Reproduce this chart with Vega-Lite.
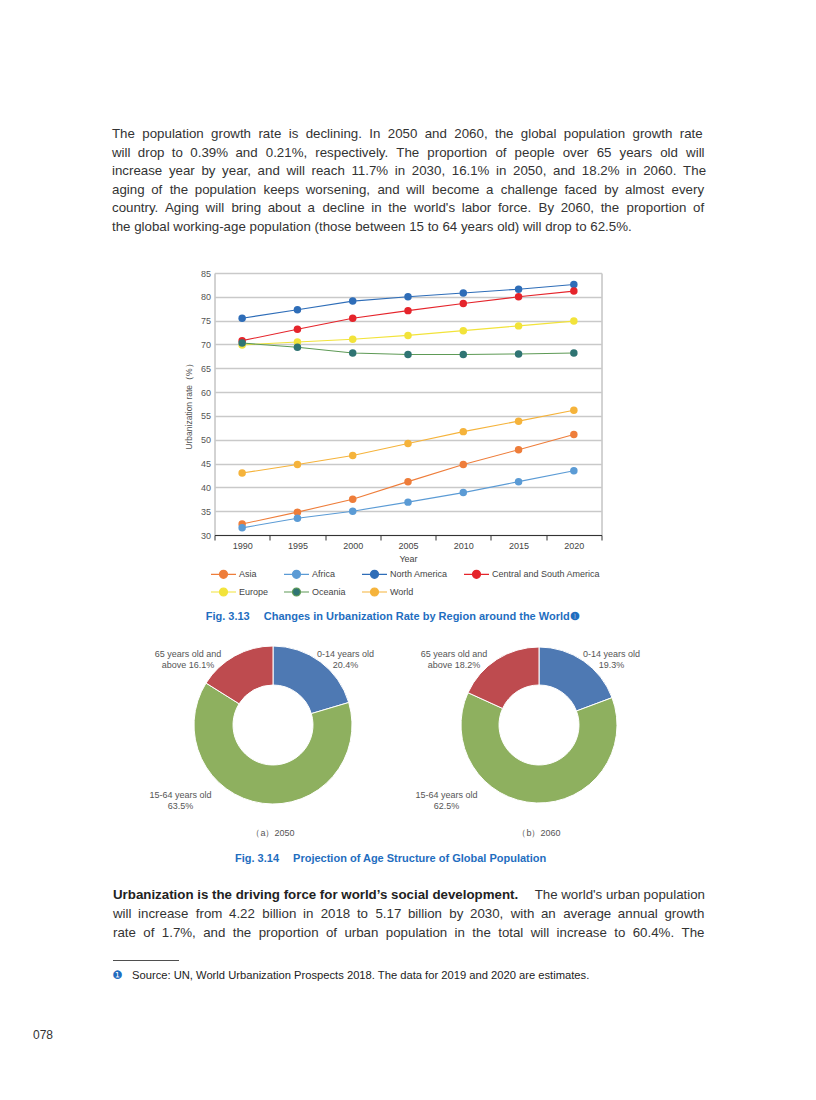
{
  "$schema": "https://vega.github.io/schema/vega-lite/v6.json",
  "background": "#ffffff",
  "padding": 0,
  "bounds": "flush",
  "center": true,
  "spacing": 0,
  "resolve": {"scale": {"color": "independent", "fill": "independent"}},
  "config": {
    "font": "Liberation Sans",
    "view": {"stroke": null},
    "axis": {"labelFont": "Liberation Sans", "titleFont": "Liberation Sans"},
    "legend": {"labelFont": "Liberation Sans"},
    "title": {"font": "Liberation Sans"}
  },
  "vconcat": [
    {
      "width": 592,
      "height": 273,
      "data": {"values": [
        {"line": 1, "text": "The\u2007population\u2007growth\u2007rate\u2007is\u2007declining.\u2007In\u20072050\u2007and\u20072060,\u2007the\u2007global\u2007population\u2007growth\u2007rate"},
        {"line": 2, "text": "will\u2007drop\u2007to\u20070.39%\u2007and \u20040.21%, \u2004respectively. \u2004The \u2004proportion \u2004of \u2004people \u2004over \u200465 \u2004years \u2004old \u2004will"},
        {"line": 3, "text": "increase\u2002year\u2002by\u2002year,\u2002and\u2002will\u2002reach\u200211.7%\u2002in\u20022030,\u200216.1%\u2002in\u20022050,\u2002and\u200218.2%\u2002in\u20022060.\u2002The"},
        {"line": 4, "text": "aging\u2002of\u2007the\u2002population\u2007keeps\u2002worsening,\u2007and\u2002will\u2007become\u2002a\u2007challenge\u2002faced\u2007by\u2002almost\u2007every"},
        {"line": 5, "text": "country.\u2002Aging\u2002will\u2007bring\u2002about\u2002a\u2007decline\u2002in\u2002the\u2007world's\u2002labor\u2002force.\u2007By\u20022060,\u2002the\u2007proportion\u2002of"},
        {"line": 6, "text": "the global working-age population (those between 15 to 64 years old) will drop to 62.5%."}
      ]},
      "mark": {"type": "text", "align": "left", "baseline": "middle", "fontSize": 13.3, "color": "#333333"},
      "encoding": {
        "x": {"value": 0},
        "y": {"field": "line", "type": "ordinal", "scale": {"type": "point", "range": [134, 227], "padding": 0}, "axis": null},
        "text": {"field": "text", "type": "nominal"}
      }
    },
    {
      "width": 387,
      "height": 262,
      "view": {"stroke": "#a6a6a6", "strokeWidth": 1},
      "data": {"values": [
        {"year": 1990, "region": "Asia", "rate": 32.3},
        {"year": 1995, "region": "Asia", "rate": 34.8},
        {"year": 2000, "region": "Asia", "rate": 37.5},
        {"year": 2005, "region": "Asia", "rate": 41.2},
        {"year": 2010, "region": "Asia", "rate": 44.8},
        {"year": 2015, "region": "Asia", "rate": 47.9},
        {"year": 2020, "region": "Asia", "rate": 51.1},
        {"year": 1990, "region": "Africa", "rate": 31.5},
        {"year": 1995, "region": "Africa", "rate": 33.5},
        {"year": 2000, "region": "Africa", "rate": 35.0},
        {"year": 2005, "region": "Africa", "rate": 36.9},
        {"year": 2010, "region": "Africa", "rate": 38.9},
        {"year": 2015, "region": "Africa", "rate": 41.2},
        {"year": 2020, "region": "Africa", "rate": 43.5},
        {"year": 1990, "region": "North America", "rate": 75.5},
        {"year": 1995, "region": "North America", "rate": 77.3},
        {"year": 2000, "region": "North America", "rate": 79.1},
        {"year": 2005, "region": "North America", "rate": 80.0},
        {"year": 2010, "region": "North America", "rate": 80.8},
        {"year": 2015, "region": "North America", "rate": 81.6},
        {"year": 2020, "region": "North America", "rate": 82.6},
        {"year": 1990, "region": "Central and South America", "rate": 70.8},
        {"year": 1995, "region": "Central and South America", "rate": 73.2},
        {"year": 2000, "region": "Central and South America", "rate": 75.5},
        {"year": 2005, "region": "Central and South America", "rate": 77.1},
        {"year": 2010, "region": "Central and South America", "rate": 78.6},
        {"year": 2015, "region": "Central and South America", "rate": 80.0},
        {"year": 2020, "region": "Central and South America", "rate": 81.2},
        {"year": 1990, "region": "Europe", "rate": 69.9},
        {"year": 1995, "region": "Europe", "rate": 70.5},
        {"year": 2000, "region": "Europe", "rate": 71.1},
        {"year": 2005, "region": "Europe", "rate": 71.9},
        {"year": 2010, "region": "Europe", "rate": 72.9},
        {"year": 2015, "region": "Europe", "rate": 73.9},
        {"year": 2020, "region": "Europe", "rate": 74.9},
        {"year": 1990, "region": "Oceania", "rate": 70.3},
        {"year": 1995, "region": "Oceania", "rate": 69.4},
        {"year": 2000, "region": "Oceania", "rate": 68.2},
        {"year": 2005, "region": "Oceania", "rate": 67.9},
        {"year": 2010, "region": "Oceania", "rate": 67.9},
        {"year": 2015, "region": "Oceania", "rate": 68.0},
        {"year": 2020, "region": "Oceania", "rate": 68.2},
        {"year": 1990, "region": "World", "rate": 43.0},
        {"year": 1995, "region": "World", "rate": 44.8},
        {"year": 2000, "region": "World", "rate": 46.7},
        {"year": 2005, "region": "World", "rate": 49.2},
        {"year": 2010, "region": "World", "rate": 51.7},
        {"year": 2015, "region": "World", "rate": 53.9},
        {"year": 2020, "region": "World", "rate": 56.2}
      ]},
      "encoding": {
        "x": {
          "field": "year", "type": "ordinal", "bandPosition": 0.5,
          "scale": {"type": "band", "paddingInner": 0, "paddingOuter": 0},
          "axis": {"title": "Year", "labelAngle": 0, "tickBand": "extent", "domainColor": "#333333", "tickColor": "#333333", "tickSize": 5, "labelFontSize": 9, "labelColor": "#444444", "labelPadding": 1, "titleFontSize": 9, "titleFontWeight": "normal", "titleColor": "#444444", "titlePadding": 4, "grid": false}
        },
        "y": {
          "field": "rate", "type": "quantitative",
          "scale": {"domain": [30, 85], "nice": false, "zero": false},
          "axis": {"title": "Urbanization rate（%）", "values": [30, 35, 40, 45, 50, 55, 60, 65, 70, 75, 80, 85], "grid": true, "gridColor": "#c9c9c9", "gridWidth": 1.4, "domain": false, "ticks": false, "labelFontSize": 9, "labelColor": "#555555", "labelPadding": 4, "titleFontSize": 8.5, "titleFontWeight": "normal", "titleColor": "#555555", "titlePadding": 7}
        }
      },
      "layer": [
        {
          "mark": {"type": "line", "strokeWidth": 1.1},
          "encoding": {
            "color": {
              "field": "region", "type": "nominal",
              "scale": {"domain": ["Asia", "Africa", "North America", "Central and South America", "Europe", "Oceania", "World"], "range": ["#EE7D3A", "#5B9BD5", "#2E6DB8", "#E5242B", "#F2E33A", "#5E9A56", "#F5B33B"]},
              "legend": {
                "orient": "none", "legendX": 3, "legendY": 295, "direction": "horizontal", "columns": 4,
                "title": null, "padding": 0,
                "symbolType": "M-2.5,0H-0.8M0.8,0H2.5M-0.8,0A0.8,0.8,0,1,1,0.8,0A0.8,0.8,0,1,1,-0.8,0",
                "symbolSize": 100, "symbolStrokeWidth": 1.2,
                "labelFontSize": 9, "labelColor": "#444444", "labelOffset": 9.5,
                "columnPadding": 13, "rowPadding": 4,
                "encode": {"symbols": {"update": {"fill": {"scale": "fill", "field": "value"}, "stroke": {"scale": "color", "field": "value"}}}}
              }
            }
          }
        },
        {
          "mark": {"type": "circle", "size": 56, "opacity": 1},
          "encoding": {
            "fill": {
              "field": "region", "type": "nominal",
              "scale": {"domain": ["Asia", "Africa", "North America", "Central and South America", "Europe", "Oceania", "World"], "range": ["#EE7D3A", "#5B9BD5", "#2E6DB8", "#E5242B", "#F2E33A", "#2F7473", "#F5B33B"]},
              "legend": null
            }
          }
        }
      ]
    },
    {
      "width": 816,
      "height": 109.5,
      "data": {"values": [{"caption": "Fig. 3.13\u2003 Changes in Urbanization Rate by Region around the World❶"}]},
      "mark": {"type": "text", "align": "left", "baseline": "middle", "fontSize": 11, "fontWeight": "bold", "color": "#1F6EBF"},
      "encoding": {"x": {"value": 205.7}, "y": {"value": 82}, "text": {"field": "caption", "type": "nominal"}}
    },
    {
      "width": 426,
      "height": 160,
      "data": {"values": [
        {"year": "2050", "group": "0-14 years old", "share": 20.4, "label": "0-14 years old\n20.4%", "rank": 1},
        {"year": "2050", "group": "15-64 years old", "share": 63.5, "label": "15-64 years old\n63.5%", "rank": 2},
        {"year": "2050", "group": "65 years old and above", "share": 16.1, "label": "65 years old and\nabove 16.1%", "rank": 3},
        {"year": "2060", "group": "0-14 years old", "share": 19.3, "label": "0-14 years old\n19.3%", "rank": 1},
        {"year": "2060", "group": "15-64 years old", "share": 62.5, "label": "15-64 years old\n62.5%", "rank": 2},
        {"year": "2060", "group": "65 years old and above", "share": 18.2, "label": "65 years old and\nabove 18.2%", "rank": 3}
      ]},
      "encoding": {
        "x": {"field": "year", "type": "ordinal", "scale": {"type": "point", "domain": ["2050", "2060"], "range": [78, 344], "padding": 0}, "axis": null}
      },
      "layer": [
        {
          "transform": [{"filter": "datum.year == '2050'"}],
          "mark": {"type": "arc", "outerRadius": 79, "innerRadius": 40, "stroke": "#ffffff", "strokeWidth": 1},
          "encoding": {
            "theta": {"field": "share", "type": "quantitative", "stack": true},
            "order": {"field": "rank", "type": "quantitative"},
            "color": {"field": "group", "type": "nominal", "scale": {"domain": ["0-14 years old", "15-64 years old", "65 years old and above"], "range": ["#4E79B3", "#8EB05F", "#BE4B4F"]}, "legend": null}
          }
        },
        {
          "transform": [{"filter": "datum.year == '2060'"}],
          "mark": {"type": "arc", "outerRadius": 78, "innerRadius": 40, "stroke": "#ffffff", "strokeWidth": 1},
          "encoding": {
            "theta": {"field": "share", "type": "quantitative", "stack": true},
            "order": {"field": "rank", "type": "quantitative"},
            "color": {"field": "group", "type": "nominal", "legend": null}
          }
        },
        {
          "transform": [{"filter": "datum.rank == 1"}],
          "mark": {"type": "text", "lineBreak": "\n", "lineHeight": 11, "fontSize": 9, "color": "#555555", "align": "center", "baseline": "middle", "dx": 72.5},
          "encoding": {"y": {"value": 9}, "text": {"field": "label", "type": "nominal"}}
        },
        {
          "transform": [{"filter": "datum.rank == 3"}],
          "mark": {"type": "text", "lineBreak": "\n", "lineHeight": 11, "fontSize": 9, "color": "#555555", "align": "center", "baseline": "middle", "dx": -85},
          "encoding": {"y": {"value": 9}, "text": {"field": "label", "type": "nominal"}}
        },
        {
          "transform": [{"filter": "datum.rank == 2"}],
          "mark": {"type": "text", "lineBreak": "\n", "lineHeight": 11, "fontSize": 9, "color": "#555555", "align": "center", "baseline": "middle", "dx": -92.5},
          "encoding": {"y": {"value": 150}, "text": {"field": "label", "type": "nominal"}}
        },
        {
          "data": {"values": [{"year": "2050", "caption": "（a）2050"}, {"year": "2060", "caption": "（b）2060"}]},
          "mark": {"type": "text", "fontSize": 9, "color": "#555555", "align": "center", "baseline": "middle"},
          "encoding": {"y": {"value": 187.5}, "text": {"field": "caption", "type": "nominal"}}
        }
      ]
    },
    {
      "width": 816,
      "height": 295.5,
      "data": {"values": [
        {"line": 1, "segment": "lead", "text": "Urbanization is the driving force for world’s social development."},
        {"line": 1, "segment": "tail", "text": "The world's urban population"},
        {"line": 2, "segment": "body", "text": "will\u2002increase\u2007from\u20024.22\u2007billion\u2002in\u20072018\u2002to\u20075.17\u2002billion\u2007by\u20022030,\u2007with\u2002an\u2007average\u2002annual\u2002growth"},
        {"line": 3, "segment": "body", "text": "rate\u2007of\u20071.7%,\u2007and\u2007the\u2007proportion\u2007of\u2007urban\u2007population\u2007in\u2007the\u2007total\u2007will\u2007increase\u2007to\u200760.4%.\u2007The"}
      ]},
      "layer": [
        {
          "transform": [{"filter": "datum.segment == 'lead'"}],
          "mark": {"type": "text", "align": "left", "baseline": "middle", "fontSize": 13.3, "fontWeight": "bold", "color": "#222222"},
          "encoding": {
            "x": {"value": 113},
            "y": {"field": "line", "type": "ordinal", "scale": {"type": "point", "range": [89.5, 127.5], "padding": 0}, "axis": null},
            "text": {"field": "text", "type": "nominal"}
          }
        },
        {
          "transform": [{"filter": "datum.segment == 'body'"}],
          "mark": {"type": "text", "align": "left", "baseline": "middle", "fontSize": 13.3, "color": "#333333"},
          "encoding": {
            "x": {"value": 113},
            "y": {"field": "line", "type": "ordinal", "axis": null},
            "text": {"field": "text", "type": "nominal"}
          }
        },
        {
          "transform": [{"filter": "datum.segment == 'tail'"}],
          "mark": {"type": "text", "align": "right", "baseline": "middle", "fontSize": 13.3, "color": "#333333"},
          "encoding": {
            "x": {"value": 705},
            "y": {"field": "line", "type": "ordinal", "axis": null},
            "text": {"field": "text", "type": "nominal"}
          }
        },
        {
          "data": {"values": [{"caption": "Fig. 3.14\u2003 Projection of Age Structure of Global Population"}]},
          "mark": {"type": "text", "align": "left", "baseline": "middle", "fontSize": 11, "fontWeight": "bold", "color": "#1F6EBF"},
          "encoding": {"x": {"value": 235}, "y": {"value": 53.5}, "text": {"field": "caption", "type": "nominal"}}
        },
        {
          "data": {"values": [{"note": "Source: UN, World Urbanization Prospects 2018. The data for 2019 and 2020 are estimates."}]},
          "mark": {"type": "rule", "color": "#222222", "strokeWidth": 0.8},
          "encoding": {"x": {"value": 113}, "x2": {"value": 179}, "y": {"value": 155.5}}
        },
        {
          "data": {"values": [{"marker": "❶"}]},
          "mark": {"type": "text", "align": "center", "baseline": "middle", "fontSize": 11.5, "font": "DejaVu Sans", "color": "#1F6EBF"},
          "encoding": {"x": {"value": 117.5}, "y": {"value": 171.2}, "text": {"field": "marker", "type": "nominal"}}
        },
        {
          "data": {"values": [{"note": "Source: UN, World Urbanization Prospects 2018. The data for 2019 and 2020 are estimates."}]},
          "mark": {"type": "text", "align": "left", "baseline": "middle", "fontSize": 11.2, "color": "#222222"},
          "encoding": {"x": {"value": 132}, "y": {"value": 171.2}, "text": {"field": "note", "type": "nominal"}}
        },
        {
          "data": {"values": [{"folio": "078"}]},
          "mark": {"type": "text", "align": "left", "baseline": "middle", "fontSize": 12, "color": "#333333"},
          "encoding": {"x": {"value": 33}, "y": {"value": 229.5}, "text": {"field": "folio", "type": "nominal"}}
        }
      ]
    }
  ]
}
